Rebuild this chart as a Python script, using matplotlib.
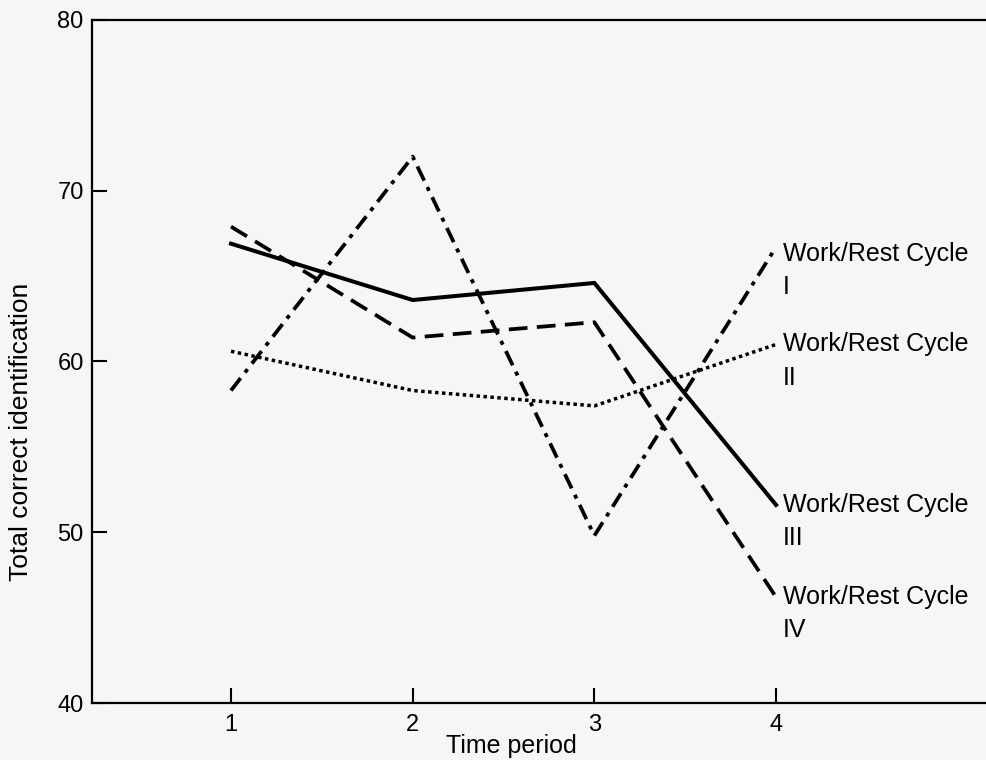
import matplotlib.pyplot as plt

# Values
periods = [1, 2, 3, 4]
cycle_i = [58.3, 72.0, 49.8, 66.7]
cycle_ii = [60.6, 58.3, 57.4, 61.0]
cycle_iii = [66.9, 63.6, 64.6, 51.6]
cycle_iv = [67.9, 61.4, 62.3, 46.2]
cycle_names = ['I', 'II', 'III', 'IV']
y_ticks = [40, 50, 60, 70, 80]

plt.rcParams['font.family'] = ['Liberation Sans', 'DejaVu Sans']

fig = plt.figure(figsize=(9.87, 7.6), dpi=100, facecolor='#f6f6f4')
ax = fig.add_axes([0.0932, 0.075, 0.9068, 0.8987])
ax.set_facecolor('#f6f6f4')

# one line style per work/rest cycle
series = [cycle_i, cycle_ii, cycle_iii, cycle_iv]
styles = [(0, (4.2, 1.9, 1.1, 1.9)), (0, (1, 1)), '-', (0, (5, 2.5))]
widths = [2.7, 2.5, 2.9, 2.7]
label_dy = [-5, 0, 0, 0]

for values, ls, lw, name, dy in zip(series, styles, widths, cycle_names, label_dy):
    ax.plot(periods, values, color='black', linestyle=ls, linewidth=lw,
            solid_joinstyle='miter')
    # labels next to the end of each line
    ax.annotate('Work/Rest Cycle', xy=(periods[-1], values[-1]),
                xytext=(5, dy), textcoords='offset points',
                ha='left', va='center', fontsize=18)
    ax.annotate(name, xy=(periods[-1], values[-1]),
                xytext=(5, dy - 24), textcoords='offset points',
                ha='left', va='center', fontsize=18)

ax.set_xlim(0.235, 5.161)
ax.set_ylim(40, 80)
ax.set_xticks(periods)
ax.set_yticks(y_ticks)
ax.tick_params(direction='in', length=11, width=1.5, labelsize=17,
               top=False, right=False)
ax.tick_params(axis='x', pad=8)
ax.tick_params(axis='y', pad=6)

for side in ['left', 'bottom', 'top']:
    ax.spines[side].set_linewidth(1.6)
ax.spines['right'].set_visible(False)

ax.set_xlabel('Time period', fontsize=18)
ax.xaxis.label.set_va('center')
ax.xaxis.set_label_coords(0.469, -0.0625)
ax.set_ylabel('Total correct identification', fontsize=19)
ax.yaxis.label.set_va('center')
ax.yaxis.set_label_coords(-0.079, 0.397)

fig.savefig('out.png', dpi=100, facecolor=fig.get_facecolor())
